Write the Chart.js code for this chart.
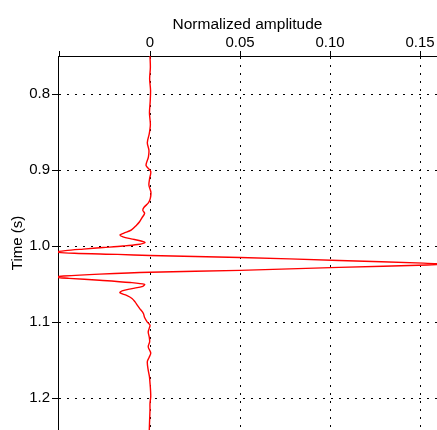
<!DOCTYPE html>
<html>
<head>
<meta charset="utf-8">
<script src="https://cdn.jsdelivr.net/npm/chart.js@4"></script>
<style>
  html, body { margin: 0; padding: 0; background: #fff; }
  #wrap { width: 437px; height: 430px; }
</style>
</head>
<body>
<div id="wrap"><canvas id="c" width="437" height="430"></canvas></div>
<script>
// Time samples (s)
const timeValues = [
  0.750, 0.765, 0.780, 0.795, 0.810, 0.825, 0.840, 0.852, 0.864, 0.874,
  0.883, 0.894, 0.902, 0.911, 0.920, 0.929, 0.937, 0.943, 0.949, 0.953,
  0.957, 0.963, 0.968, 0.9725, 0.979, 0.983, 0.9855, 0.988, 0.9905, 0.993,
  0.9955, 0.998, 1.000, 1.002, 1.004, 1.006, 1.0079, 1.0095, 1.011, 1.0125,
  1.015, 1.019, 1.0225, 1.0238, 1.025, 1.028, 1.032, 1.0345, 1.037, 1.0395,
  1.0408, 1.0425, 1.045, 1.048, 1.0505, 1.053, 1.056, 1.059, 1.0615, 1.065,
  1.069, 1.0735, 1.078, 1.082, 1.0885, 1.094, 1.100, 1.104, 1.108, 1.113,
  1.120, 1.126, 1.1325, 1.1408, 1.1465, 1.1522, 1.1632, 1.172, 1.1803, 1.190,
  1.1983, 1.207, 1.2158, 1.228, 1.2421
];
// Normalized amplitude at each time sample
const amplitudeValues = [
  0.0000, 0.0002, -0.0002, 0.0003, 0.0001, -0.0003, 0.0002, -0.0004, -0.0015, -0.0006,
  -0.0009, -0.0022, 0.0004, -0.0002, -0.0006, 0.0005, 0.0002, -0.0008, -0.0033, -0.0040,
  -0.0030, -0.0045, -0.0058, -0.0075, -0.0105, -0.0145, -0.0167, -0.0150, -0.0105, -0.0055,
  -0.0028, -0.0070, -0.0150, -0.0260, -0.0370, -0.0470, -0.0525, -0.0420, -0.0180, 0.0000,
  0.0500, 0.1050, 0.1520, 0.1625, 0.1540, 0.1050, 0.0500, 0.0000, -0.0280, -0.0480,
  -0.0525, -0.0450, -0.0280, -0.0110, -0.0030, -0.0040, -0.0100, -0.0155, -0.0167, -0.0130,
  -0.0100, -0.0083, -0.0070, -0.0058, -0.0037, -0.0030, -0.0015, 0.0000, -0.0004, -0.0010,
  -0.0004, -0.0002, -0.0010, 0.0004, -0.0005, -0.0015, -0.0010, -0.0003, 0.0000, 0.0003,
  0.0004, 0.0000, 0.0000, -0.0002, -0.0004
];
// Axis ticks
const xTickValues = [-0.05, 0, 0.05, 0.10, 0.15];
const xTickLabels = ['', '0', '0.05', '0.10', '0.15'];
const yTickValues = [0.8, 0.9, 1.0, 1.1, 1.2];
const yTickLabels = ['0.8', '0.9', '1.0', '1.1', '1.2'];

const points = timeValues.map((t, i) => ({ x: amplitudeValues[i], y: t }));
const FONT = "'Liberation Sans', Arial, Helvetica, sans-serif";

new Chart(document.getElementById('c'), {
  type: 'scatter',
  data: {
    datasets: [{
      data: points,
      showLine: true,
      borderColor: '#ff0000',
      backgroundColor: '#ff0000',
      borderWidth: 1.4,
      pointRadius: 0,
      pointHoverRadius: 0,
      tension: 0.3,
      fill: false
    }]
  },
  options: {
    responsive: false,
    animation: false,
    devicePixelRatio: 1,
    layout: { padding: 0 },
    plugins: { legend: { display: false }, tooltip: { enabled: false } },
    events: [],
    scales: {
      x: {
        type: 'linear',
        position: 'top',
        min: -0.0511,
        max: 0.1594,
        afterBuildTicks: (s) => { s.ticks = xTickValues.map(v => ({ value: v })); },
        afterFit: (s) => { s.height = 56; s.paddingLeft = 0; s.paddingRight = 0; s.paddingTop = 0; s.paddingBottom = 0; },
        ticks: {
          autoSkip: false,
          maxRotation: 0,
          padding: -1,
          color: '#000',
          font: { family: FONT, size: 15 },
          callback: (v, i) => xTickLabels[i]
        },
        grid: {
          color: (ctx) => (ctx.tick && ctx.tick.value === -0.05) ? 'rgba(0,0,0,0)' : '#000',
          lineWidth: 1,
          tickLength: 5,
          tickColor: '#000',
          tickWidth: 1
        },
        border: { display: true, color: '#000', width: 1, dash: [2, 6] },
        title: {
          display: true,
          text: 'Normalized amplitude',
          color: '#000',
          font: { family: FONT, size: 15.5 },
          padding: { top: 15, bottom: 0 }
        }
      },
      y: {
        type: 'linear',
        position: 'left',
        reverse: true,
        min: 0.75,
        max: 1.242,
        afterBuildTicks: (s) => { s.ticks = yTickValues.map(v => ({ value: v })); },
        afterFit: (s) => { s.width = 58; s.paddingLeft = 0; s.paddingRight = 0; s.paddingTop = 0; s.paddingBottom = 0; },
        ticks: {
          autoSkip: false,
          padding: 2,
          color: '#000',
          font: { family: FONT, size: 15 },
          callback: (v, i) => yTickLabels[i]
        },
        grid: {
          color: '#000',
          lineWidth: 1,
          tickLength: 6,
          tickColor: '#000',
          tickWidth: 1
        },
        border: { display: true, color: '#000', width: 1, dash: [2, 6] },
        title: {
          display: true,
          text: 'Time (s)',
          color: '#000',
          font: { family: FONT, size: 15 },
          padding: { top: 9, bottom: 0 }
        }
      }
    }
  }
});
</script>
</body>
</html>
